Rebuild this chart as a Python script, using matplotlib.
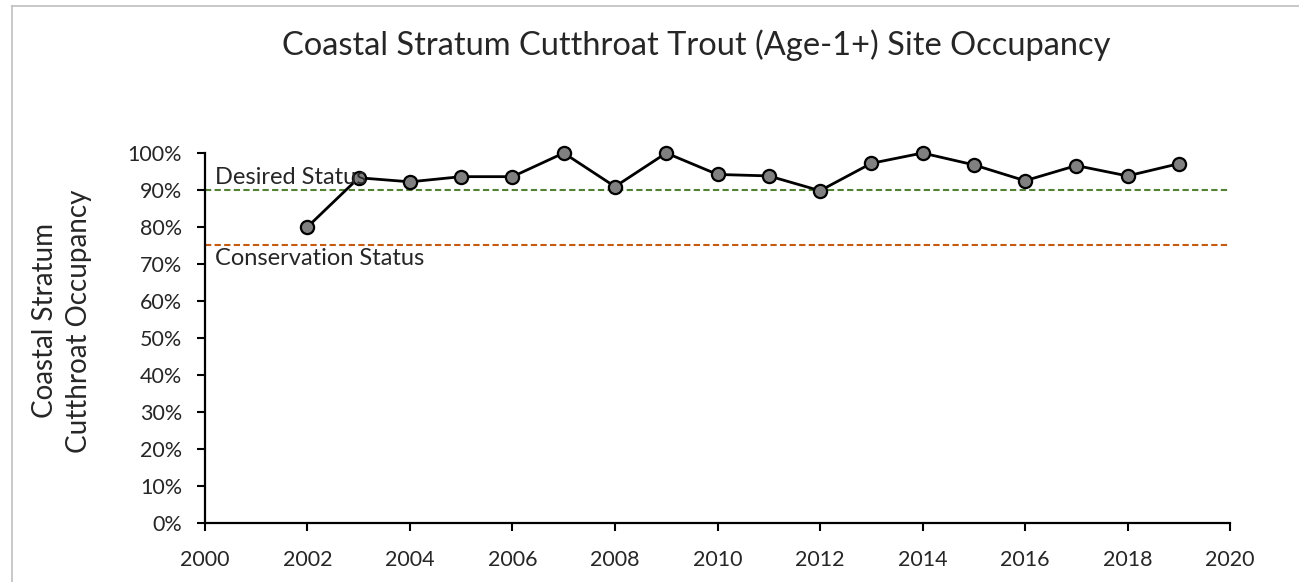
import matplotlib
matplotlib.use("Agg")
import matplotlib.pyplot as plt
from matplotlib.lines import Line2D
from matplotlib.ticker import PercentFormatter

# Site occupancy by year (fraction of sites)
years = [2002, 2003, 2004, 2005, 2006, 2007, 2008, 2009, 2010, 2011,
         2012, 2013, 2014, 2015, 2016, 2017, 2018, 2019]
occupancy = [0.80, 0.933, 0.922, 0.936, 0.936, 1.00, 0.909, 1.00, 0.942, 0.938,
             0.898, 0.972, 1.00, 0.968, 0.925, 0.966, 0.938, 0.971]

desired_status = 0.90
conservation_status = 0.75
x_ticks = list(range(2000, 2021, 2))
y_ticks = [i / 10 for i in range(0, 11)]

plt.rcParams['font.family'] = ['Lato', 'DejaVu Sans']

fig = plt.figure(figsize=(12.99, 5.82), dpi=100)
ax = fig.add_axes([0.1578, 0.1022, 0.7891, 0.6349])

ax.axhline(desired_status, color='#548235', linestyle=(0, (3, 1.6)), linewidth=1.5)
ax.axhline(conservation_status, color='#C55A11', linestyle=(0, (3, 1.6)), linewidth=1.5)

ax.plot(years, occupancy, color='black', linewidth=2.0, marker='o',
        markersize=9.5, markerfacecolor='#808080', markeredgecolor='black',
        markeredgewidth=1.6, zorder=3, clip_on=False)

# status labels sit on top of the series, as in the original
ax.text(2000.2, desired_status + 0.004, "Desired Status", fontsize=17,
        color='#262626', va='bottom', ha='left', zorder=4)
ax.text(2000.2, conservation_status - 0.006, "Conservation Status", fontsize=17,
        color='#262626', va='top', ha='left', zorder=4)

ax.set_xlim(2000, 2020)
ax.set_ylim(0, 1)
ax.set_xticks(x_ticks)
ax.set_yticks(y_ticks)
ax.yaxis.set_major_formatter(PercentFormatter(1.0, decimals=0))
ax.tick_params(axis='both', labelsize=15.5, labelcolor='#262626', direction='out',
               length=6, width=1.5)
ax.tick_params(axis='x', pad=13.5)
ax.tick_params(axis='y', pad=10.5)
for side in ['top', 'right']:
    ax.spines[side].set_visible(False)
for side in ['left', 'bottom']:
    ax.spines[side].set_linewidth(1.6)

# axis title placed like the original chart
fig.text(62 / 1299, 1 - 321 / 582, "Coastal Stratum\nCutthroat Occupancy",
         fontsize=20, color='#262626', rotation=90, ha='center', va='center',
         linespacing=1.35, multialignment='center')
fig.text(696 / 1299, 1 - 45 / 582, "Coastal Stratum Cutthroat Trout (Age-1+) Site Occupancy",
         fontsize=23.5, color='#262626', ha='center', va='center')

# chart border (Excel-style frame)
fig.add_artist(Line2D([12 / 1299, 12 / 1299], [0, 1 - 6 / 582], transform=fig.transFigure,
                      color='#BFBFBF', linewidth=1.2))
fig.add_artist(Line2D([12 / 1299, 1], [1 - 6 / 582, 1 - 6 / 582], transform=fig.transFigure,
                      color='#BFBFBF', linewidth=1.2))

fig.savefig("out.png", dpi=100)
